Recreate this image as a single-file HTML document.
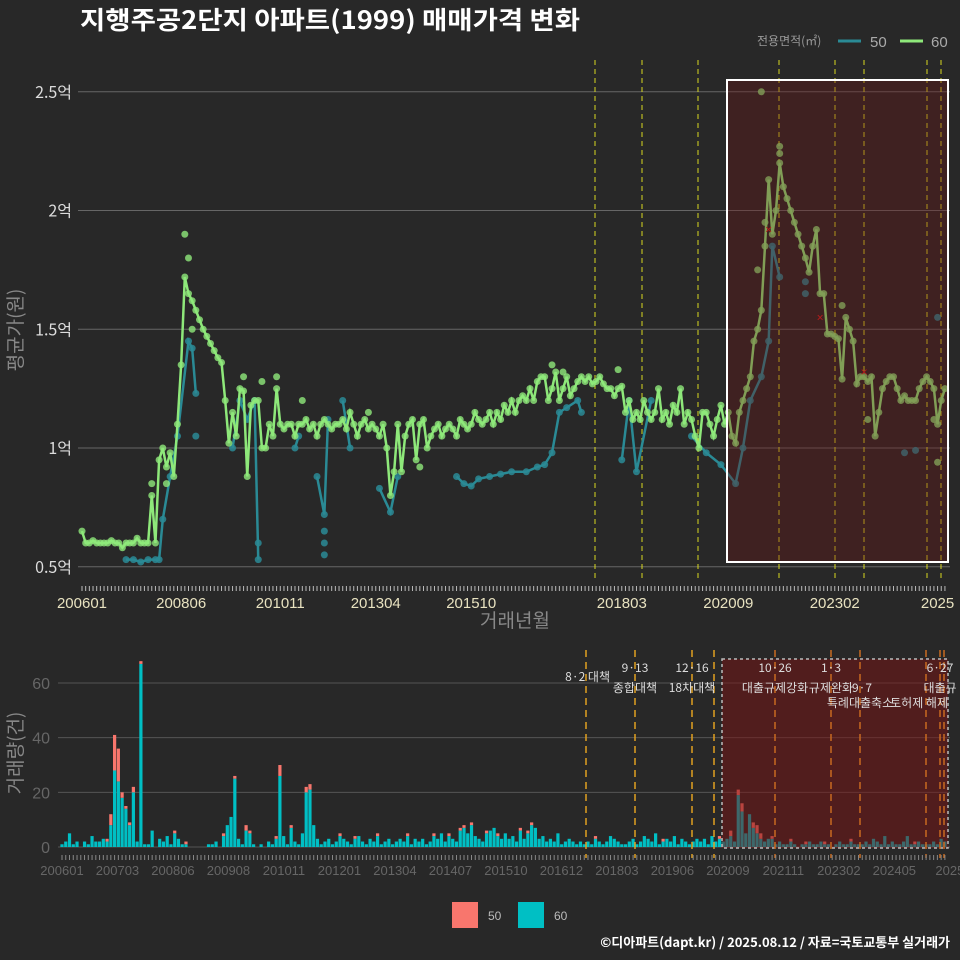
<!DOCTYPE html>
<html><head><meta charset="utf-8"><style>
html,body{margin:0;padding:0;background:#282828;}
svg{display:block;font-family:"Liberation Sans","Noto Sans CJK KR",sans-serif;}
</style></head><body>
<svg id="c" width="960" height="960" viewBox="0 0 960 960">
<rect x="0" y="0" width="960" height="960" fill="#282828"/>
<text x="80" y="29" font-size="25" font-weight="bold" fill="#ffffff" textLength="500" lengthAdjust="spacingAndGlyphs" font-family="Noto Sans CJK KR, sans-serif">지행주공2단지 아파트(1999) 매매가격 변화</text>
<g>
<text x="757" y="45" font-size="12" fill="#999" font-family="Noto Sans CJK KR, sans-serif">전용면적(㎡)</text>
<line x1="838" y1="41" x2="861" y2="41" stroke="#2a8a95" stroke-width="3"/>
<text x="870" y="47" font-size="15" fill="#aaa">50</text>
<line x1="900" y1="41" x2="923" y2="41" stroke="#8ee87a" stroke-width="3"/>
<text x="931" y="47" font-size="15" fill="#aaa">60</text>
</g>
<g id="topPanel"></g>
<g id="botPanel"></g>
<text x="515" y="627" font-size="19" fill="#888" text-anchor="middle" font-family="Noto Sans CJK KR, sans-serif">거래년월</text>
<text transform="translate(22,330) rotate(-90)" font-size="19" fill="#888" text-anchor="middle" font-family="Noto Sans CJK KR, sans-serif">평균가(원)</text>
<text transform="translate(22,753) rotate(-90)" font-size="19" fill="#888" text-anchor="middle" font-family="Noto Sans CJK KR, sans-serif">거래량(건)</text>
<g>
<rect x="452" y="902" width="26" height="26" fill="#f8766d"/>
<text x="488" y="920" font-size="12" fill="#bbb">50</text>
<rect x="518" y="902" width="26" height="26" fill="#00bfc4"/>
<text x="554" y="920" font-size="12" fill="#bbb">60</text>
</g>
<text x="950" y="947" font-size="13" font-weight="bold" fill="#fff" text-anchor="end" font-family="Noto Sans CJK KR, sans-serif">©디아파트(dapt.kr) / 2025.08.12 / 자료=국토교통부 실거래가</text>
</svg>
<script>
const price60 = [0.65,0.6,0.6,0.61,0.6,0.6,0.6,0.6,0.61,0.6,
0.6,0.58,0.6,0.6,0.6,0.62,0.6,0.6,0.6,0.8,
0.6,0.95,1.0,0.92,0.98,0.88,1.1,1.35,1.72,1.65,
1.62,1.58,1.54,1.5,1.47,1.44,1.41,1.38,1.36,1.2,
1.02,1.15,1.05,1.25,1.24,0.88,1.18,1.2,1.2,1.0,
1.0,1.1,1.05,1.25,1.1,1.08,1.1,1.1,1.05,1.1,
1.1,1.12,1.08,1.1,1.05,1.1,1.12,1.1,1.08,1.1,
1.1,1.12,1.08,1.15,1.1,1.05,1.1,1.12,1.08,1.1,
1.08,1.05,1.1,1.0,0.8,0.9,1.1,0.9,1.05,1.1,
1.12,0.95,1.1,1.12,1.0,1.05,1.08,1.1,1.05,1.08,
1.1,1.08,1.05,1.12,1.1,1.08,1.1,1.15,1.12,1.1,
1.12,1.15,1.1,1.15,1.12,1.18,1.15,1.2,1.15,1.2,
1.22,1.2,1.25,1.2,1.28,1.3,1.3,1.2,1.25,1.32,
1.2,1.25,1.3,1.22,1.25,1.28,1.3,1.28,1.3,1.27,
1.28,1.3,1.27,1.25,1.25,1.22,1.25,1.26,1.15,1.2,
1.12,1.15,1.12,1.2,1.15,1.12,1.15,1.25,1.12,1.15,
1.1,1.18,1.15,1.25,1.1,1.15,1.12,1.05,1.0,1.15,
1.15,1.1,1.05,1.12,1.18,1.1,1.15,1.05,1.02,1.15,
1.2,1.25,1.3,1.45,1.5,1.58,1.85,2.13,1.9,2.0,
2.2,2.1,2.05,2.0,1.95,1.9,1.85,1.8,1.74,1.85,
1.92,1.65,1.65,1.48,1.48,1.47,1.46,1.29,1.55,1.5,
1.45,1.27,1.3,1.3,1.28,1.3,1.05,1.15,1.25,1.28,
1.3,1.3,1.25,1.2,1.22,1.2,1.2,1.2,1.25,1.28,
1.3,1.28,1.25,1.1,1.2,1.25];
const extra60Idx = [28,29,30,19,23,44,49,53,60,78,92,128,131,146,185,190,190,184,186,207,214,233,232];
const extra60Val = [1.9,1.8,1.5,0.85,0.85,1.3,1.28,1.3,1.2,1.15,0.92,1.35,1.32,1.33,2.5,2.27,2.24,1.75,1.95,1.6,1.12,0.94,1.12];
const pts50 = [[12,0.53],[14,0.53],[16,0.52],[18,0.53],[20,0.53],[21,0.53],[22,0.7],[24,0.88],[26,1.05],[29,1.45],[30,1.42],[31,1.23],
null,[41,1.0],[43,1.2],[45,1.12],[47,1.2],[48,0.53],null,[58,1.0],[59,1.05],null,[64,0.88],[66,0.72],[67,1.12],null,[71,1.2],[73,1.0],null,
[81,0.83],[84,0.73],[86,0.88],null,[102,0.88],[104,0.85],[106,0.84],[108,0.87],[111,0.88],[114,0.89],[117,0.9],[121,0.9],[124,0.92],[126,0.93],[128,0.98],[130,1.15],[132,1.17],[135,1.2],[136,1.15],
null,[147,0.95],[149,1.2],[151,0.9],[155,1.2],null,[166,1.05],[170,0.98],[174,0.93],[178,0.85],[180,1.0],[182,1.2],[185,1.3],[187,1.45],[188,1.85],[190,1.72]];
const extra50Idx = [31,48,66,66,66,197,197,224,227,233];
const extra50Val = [1.05,0.6,0.6,0.65,0.55,1.7,1.65,0.98,0.99,1.55];
const crossIdx = [187,201,213];
const crossVal = [1.92,1.55,1.32];
const topTickLabels = ["200601","200806","201011","201304","201510","201803","202009","202302","2025"];
const topTickIdx = [0,27,54,80,106,147,176,205,233];
const yTicks = [0.5,1,1.5,2,2.5];
const yTickLabels = ["0.5억","1억","1.5억","2억","2.5억"];

const vol60 = [1,2,5,1,2,0,2,1,4,2, 2,3,2,8,28,24,18,14,8,20, 2,67,1,1,6,0,3,2,4,1,
5,3,1,1,0,0,0,0,0,1, 1,2,0,4,8,11,25,3,1,6, 5,1,0,1,0,2,1,3,26,4,
1,7,2,1,5,20,21,8,3,1, 2,3,1,2,4,3,2,1,3,4, 2,1,3,2,4,1,2,3,1,2,
3,2,4,1,3,2,3,1,2,4, 3,5,2,4,3,2,6,7,5,8, 4,3,2,5,6,7,4,3,5,3,
4,2,6,3,5,8,7,3,4,2, 3,2,5,1,2,3,2,1,2,1, 2,1,3,2,1,2,4,3,2,1,
1,2,3,1,2,4,3,2,5,1, 2,3,2,4,1,3,2,1,2,3, 2,3,1,4,2,3,2,3,4,2,
19,13,5,12,7,5,3,2,3,3, 1,2,1,1,2,1,0,1,1,2, 1,1,2,1,1,0,1,2,1,1,
2,1,1,1,2,1,3,2,1,4, 1,2,1,1,2,4,1,1,2,1, 1,1,2,1,3,2];
const vol50 = [0,0,0,0,0,0,0,0,0,0, 0,0,1,4,13,12,2,1,1,2, 0,1,0,0,0,0,0,0,0,0,
1,0,0,1,0,0,0,0,0,0, 0,0,0,1,0,0,1,0,0,2, 1,0,0,0,0,0,0,1,4,0,
0,1,0,0,0,2,2,0,0,0, 0,0,0,0,1,0,0,0,1,0, 0,0,0,0,1,0,0,0,0,0,
0,0,1,0,0,0,0,0,0,1, 0,0,0,1,0,0,1,1,0,1, 0,0,0,1,0,0,1,0,0,0,
0,0,1,0,1,1,0,0,0,0, 0,0,0,0,0,0,0,0,0,0, 0,0,1,0,0,0,0,0,0,0,
0,0,0,0,0,0,0,0,0,0, 1,0,0,0,0,0,0,0,0,0, 0,0,0,0,0,1,0,0,2,0,
2,3,0,0,2,3,2,0,0,1, 0,0,0,0,1,0,0,0,1,0, 0,0,0,1,0,0,0,0,0,0,
1,0,0,0,0,0,0,0,0,0, 0,0,0,0,0,0,0,1,0,0, 0,0,0,0,0,0];
const botTickLabels = ["200601","200703","200806","200908","201011","201201","201304","201407","201510","201612","201803","201906","202009","202111","202302","202405","2025"];
const volTicks = [0,20,40,60];

const NS="http://www.w3.org/2000/svg";
function mk(p,tag,at){const e=document.createElementNS(NS,tag);for(const k in at)e.setAttribute(k,at[k]);p.appendChild(e);return e;}
const topG=document.getElementById('topPanel'), botG=document.getElementById('botPanel');
const xT=i=>82+i*3.672, yT=v=>448-(v-1)*237.5;
const xB=i=>62+i*3.757, yB=v=>847-v*2.733;

yTicks.forEach((t,k)=>{
  const l=mk(topG,'line',{x1:78,x2:950,y1:yT(t),y2:yT(t),stroke:'#666','stroke-width':1});
  
  
  const tx=mk(topG,'text',{x:72,y:yT(t)+6,'font-size':16,fill:'#dddddd','text-anchor':'end','font-family':'Noto Sans CJK KR, sans-serif'});
  tx.textContent=yTickLabels[k];
  
  
});
[595,642,698,779,835,864,927,941].forEach(x=>{
  const l=mk(topG,'line',{x1:x,x2:x,y1:60,y2:580,stroke:'#d8d820','stroke-width':1,'stroke-dasharray':'5,4'});
  
  
});
for(let i=0;i<236;i++){
  const l=mk(topG,'line',{x1:xT(i),x2:xT(i),y1:586,y2:591,stroke:'#bbb','stroke-width':1});
  
  
}
topTickLabels.forEach((s,k)=>{
  const t=mk(topG,'text',{x:xT(topTickIdx[k]),y:608,'font-size':15,fill:'#e8e2c0','text-anchor':'middle'});
  t.textContent=s;
  
  
});
let d='',pen=false;
pts50.forEach(p=>{ if(!p){pen=false;return;} d+=(pen?'L':'M')+xT(p[0])+','+yT(p[1]); pen=true;});
const l50=mk(topG,'path',{d:d,fill:'none',stroke:'#2a8a95','stroke-width':2.5});


pts50.forEach(p=>{ if(!p)return; const c=mk(topG,'circle',{cx:xT(p[0]),cy:yT(p[1]),r:3.5,fill:'#2a8a95','fill-opacity':0.85});
  
  });
extra50Idx.forEach((ix,k)=>{const c=mk(topG,'circle',{cx:xT(ix),cy:yT(extra50Val[k]),r:3.5,fill:'#2a8a95','fill-opacity':0.85});
  
  });
d=price60.map((v,i)=>(i?'L':'M')+xT(i)+','+yT(v)).join('');
const l60=mk(topG,'path',{d:d,fill:'none',stroke:'#8ee87a','stroke-width':2.5});


price60.forEach((v,i)=>{const c=mk(topG,'circle',{cx:xT(i),cy:yT(v),r:3.5,fill:'#8ee87a','fill-opacity':0.8});
  
  });
extra60Idx.forEach((ix,k)=>{const c=mk(topG,'circle',{cx:xT(ix),cy:yT(extra60Val[k]),r:3.5,fill:'#8ee87a','fill-opacity':0.8});
  
  });
crossIdx.forEach((ix,k)=>{const t=mk(topG,'text',{x:xT(ix),y:yT(crossVal[k])+4,'font-size':12,fill:'#e02020','text-anchor':'middle'});t.textContent='×';
  
  });
const bx=mk(topG,'rect',{x:727,y:80,width:221,height:482,fill:'#6a1414','fill-opacity':0.35});


const bxs=mk(topG,'rect',{x:727,y:80,width:221,height:482,fill:'none',stroke:'#fff','stroke-width':2});



volTicks.forEach(t=>{
  const l=mk(botG,'line',{x1:58,x2:950,y1:yB(t),y2:yB(t),stroke:'#555','stroke-width':1});
  
  
  const tx=mk(botG,'text',{x:50,y:yB(t)+6,'font-size':16,fill:'#666','text-anchor':'end'});
  tx.textContent=String(t);
  
  
});
vol60.forEach((v,i)=>{
  const r=mk(botG,'rect',{x:xB(i)-1.6,y:yB(v),width:3.2,height:v*2.733,fill:'#00bfc4'});
  
  
  const w=vol50[i]||0;
  const r2=mk(botG,'rect',{x:xB(i)-1.6,y:yB(v+w),width:3.2,height:w*2.733,fill:'#f8766d'});
  
  
});
const bb=mk(botG,'rect',{x:722,y:659,width:226,height:189,fill:'#7a1212','fill-opacity':0.5});


const bbs=mk(botG,'rect',{x:722,y:659,width:226,height:189,fill:'none',stroke:'#bbb','stroke-width':1.5,'stroke-dasharray':'3,3'});


[586,635,692,714,775,831,860,926,940,944].forEach(x=>{
  const l=mk(botG,'line',{x1:x,x2:x,y1:650,y2:858,stroke:(x>720?'#c86a20':'#e0a020'),'stroke-width':1.5,'stroke-dasharray':'7,5'});
  
  
});
for(let i=0;i<236;i++){
  const l=mk(botG,'line',{x1:xB(i),x2:xB(i),y1:855,y2:860,stroke:'#888','stroke-width':1});
  
  
}
botTickLabels.forEach((s,k)=>{
  const t=mk(botG,'text',{x:xB(k*14.77),y:875,'font-size':13,fill:'#666','text-anchor':'middle'});
  t.textContent=s;
  
  
});
const ann=[[610,681,'8·2 대책','end'],[635,672,'9·13','middle'],[635,692,'종합대책','middle'],[692,672,'12·16','middle'],[692,692,'18차대책','middle'],
[775,672,'10·26','middle'],[775,692,'대출규제강화','middle'],[831,672,'1·3','middle'],[831,692,'규제완화','middle'],[862,692,'9·7','middle'],
[860,707,'특례대출축소','middle'],[940,672,'6·27','middle'],[940,692,'대출규','middle'],[948,707,'토허제 해제','end']];
ann.forEach(a=>{
  const t=mk(botG,'text',{x:a[0],y:a[1],'font-size':12,fill:'#dddddd','text-anchor':a[3],'font-family':'Noto Sans CJK KR, sans-serif'});
  t.textContent=a[2];
  
  
});
</script>
</body></html>
